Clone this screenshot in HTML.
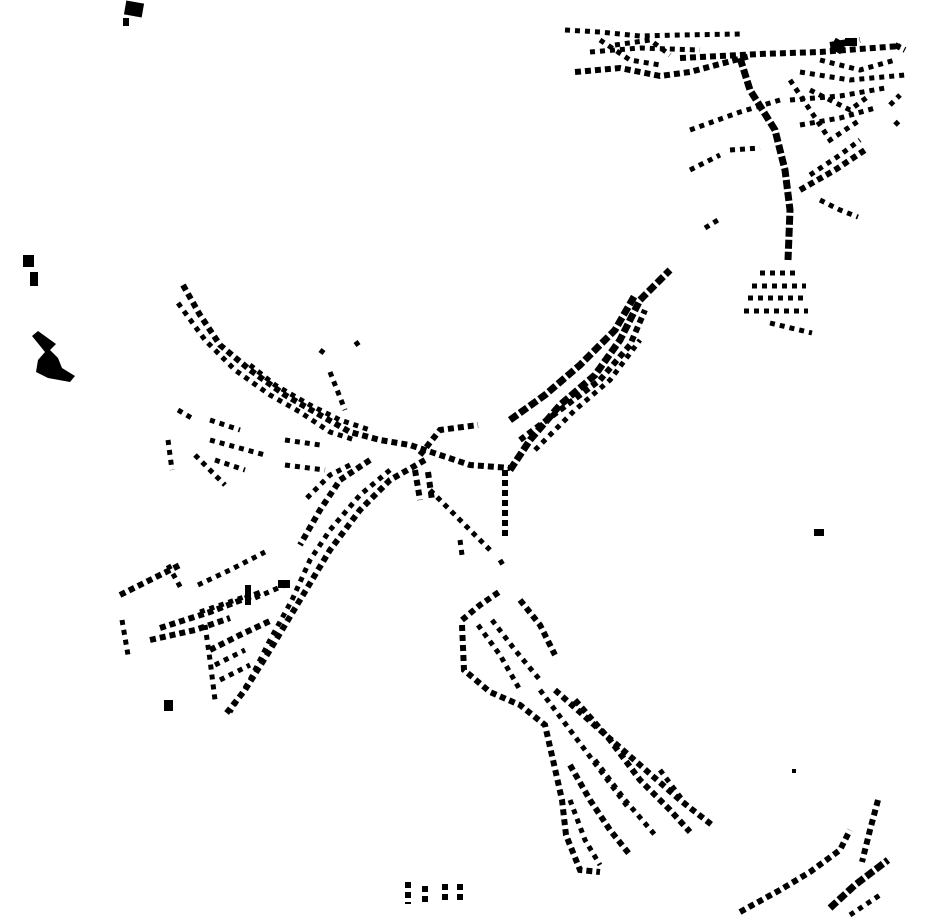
<!DOCTYPE html>
<html><head><meta charset="utf-8"><style>
html,body{margin:0;padding:0;background:#fff;width:930px;height:924px;overflow:hidden}
svg{display:block}
.a{fill:none;stroke:#000;stroke-width:6;stroke-dasharray:6 4}
.b{fill:none;stroke:#000;stroke-width:5;stroke-dasharray:5 5}
.c{fill:none;stroke:#000;stroke-width:7;stroke-dasharray:9 3}
</style></head><body>
<svg width="930" height="924" viewBox="0 0 930 924">
<rect x="125" y="2" width="18" height="14" transform="rotate(10 134 9)"/>
<rect x="123" y="18" width="6" height="8"/>
<rect x="23" y="255" width="11" height="12"/>
<rect x="30" y="272" width="8" height="14"/>
<polygon points="32,336 38,331 56,344 50,350 58,358 62,368 75,376 70,382 48,378 36,372 38,360 45,352"/>
<rect x="814" y="529" width="10" height="7"/>
<rect x="792" y="769" width="4" height="4"/>
<rect x="164" y="700" width="9" height="11"/>
<rect x="245" y="585" width="6" height="20"/>
<rect x="278" y="580" width="12" height="8"/>
<rect x="832" y="40" width="12" height="12" transform="rotate(30 838 46)"/>
<rect x="845" y="38" width="12" height="8"/>
<!-- NE town -->
<path class="b" d="M565,30 L600,32 L640,36 L680,35 L740,34"/>
<path class="a" d="M575,72 L620,68 L660,76 L690,72 L750,56"/>
<path class="b" d="M590,52 L640,48 L700,50"/>
<path class="b" d="M600,40 L630,60 L660,65"/>
<path class="b" d="M615,45 L650,40 L670,55"/>
<path class="a" d="M680,58 L760,54 L820,52 L900,46"/>
<path class="c" d="M740,58 L750,90 L775,130 L785,170 L790,210 L788,260"/>
<path class="b" d="M690,130 L740,112 L780,100"/>
<path class="b" d="M800,72 L850,80 L905,75"/>
<path class="b" d="M790,100 L840,96 L885,88"/>
<path class="b" d="M800,125 L840,118 L875,108"/>
<path class="b" d="M810,90 L850,110 L870,95"/>
<path class="b" d="M820,60 L860,70 L895,60"/>
<path class="a" d="M800,190 L835,170 L865,150"/>
<path class="b" d="M810,175 L840,155 L860,140"/>
<path class="b" d="M820,200 L840,210 L858,217"/>
<path class="b" d="M790,80 L830,140 L860,120"/>
<path class="b" d="M890,105 L900,95 M895,125 L900,120"/>
<path class="b" d="M690,170 L720,155 M730,150 L760,148 M705,228 L718,220"/>
<path class="a" d="M830,45 L860,40 M895,45 L905,50"/>
<path class="b" d="M760,273 L800,273 M752,286 L806,286 M748,298 L808,298 M744,311 L808,311 M770,323 L812,333"/>
<!-- central -->
<path class="a" d="M183,285 L200,315 L220,345 L250,370 L285,395 L320,415 L350,432 L380,440 L410,445 L440,455 L470,465 L510,468"/>
<path class="b" d="M178,303 L205,340 L235,370 L270,395 L300,412 L330,432 L355,440"/>
<path class="b" d="M250,365 L275,385 L310,405 L340,420 L370,430"/>
<path class="b" d="M330,372 L345,410 M355,345 L362,340 M320,350 L324,353"/>
<path class="a" d="M420,455 L440,430 L478,425"/>
<path class="c" d="M510,470 L530,440 L560,405 L595,375 L620,340 L640,300 L670,270"/>
<path class="c" d="M510,420 L545,395 L580,365 L615,330 L635,295"/>
<path class="a" d="M520,440 L560,410 L600,380 L630,345 L645,310"/>
<path class="b" d="M535,450 L575,410 L610,380 L640,340"/>
<path class="a" d="M425,460 L390,480 L360,510 L330,550 L300,600 L270,650 L245,690 L225,715"/>
<path class="b" d="M390,470 L360,495 L330,530 L310,560 L292,600 L270,640 L250,680 L230,712"/>
<path class="a" d="M370,460 L340,480 L320,510 L300,545"/>
<path class="b" d="M350,465 L330,475 L305,500"/>
<path class="b" d="M430,490 L460,520 L490,550"/>
<path class="a" d="M505,470 L505,505 L505,540"/>
<path class="a" d="M415,470 L420,500 M428,472 L432,500"/>
<path class="b" d="M460,540 L462,555 M500,560 L503,565"/>
<path class="b" d="M168,440 L172,470 M178,410 L195,420 M210,420 L240,430 M210,440 L265,455 M215,460 L245,470 M195,455 L225,485 M285,440 L320,445 M285,465 L325,470"/>
<!-- SW -->
<path class="a" d="M120,595 L150,580 L180,565"/>
<path class="a" d="M150,640 L195,630 L230,618"/>
<path class="a" d="M160,628 L210,612 L262,592"/>
<path class="b" d="M198,585 L230,570 L265,552"/>
<path class="b" d="M200,612 L250,595"/>
<path class="a" d="M210,650 L240,635 L272,620"/>
<path class="b" d="M215,665 L245,650"/>
<path class="b" d="M220,680 L250,665"/>
<path class="b" d="M205,625 L210,660 L215,700"/>
<path class="b" d="M122,620 L128,655 M168,565 L182,590"/>
<path class="b" d="M255,598 L285,585"/>
<!-- south -->
<path class="a" d="M462,620 L480,605 L502,590"/>
<path class="a" d="M462,625 L464,670 L490,692 L520,705 L545,725 L553,760 L562,800 L566,835 L580,870 L600,872"/>
<path class="a" d="M520,600 L540,625 L555,655"/>
<path class="b" d="M478,625 L500,655 L520,690"/>
<path class="b" d="M492,620 L515,650 L540,680"/>
<path class="a" d="M555,690 L600,730 L640,765 L680,800 L712,825"/>
<path class="a" d="M575,700 L610,740 L640,780 L670,810 L690,832"/>
<path class="b" d="M540,690 L570,730 L600,770 L630,810"/>
<path class="a" d="M570,765 L590,800 L610,830 L630,855"/>
<path class="b" d="M595,760 L625,800 L655,835"/>
<path class="b" d="M570,800 L585,840 L600,865"/>
<path class="b" d="M660,770 L690,810"/>
<!-- SE -->
<path class="a" d="M878,800 L870,830 L862,862"/>
<path class="a" d="M740,912 L780,890 L810,872 L840,850 L850,830"/>
<path class="c" d="M830,908 L855,885 L888,860"/>
<path class="b" d="M850,915 L880,895"/>
<!-- bottom small -->
<path class="a" d="M408,882 L408,904 M425,886 L425,904 M445,884 L445,904 M460,884 L460,904"/>
</svg>
</body></html>
